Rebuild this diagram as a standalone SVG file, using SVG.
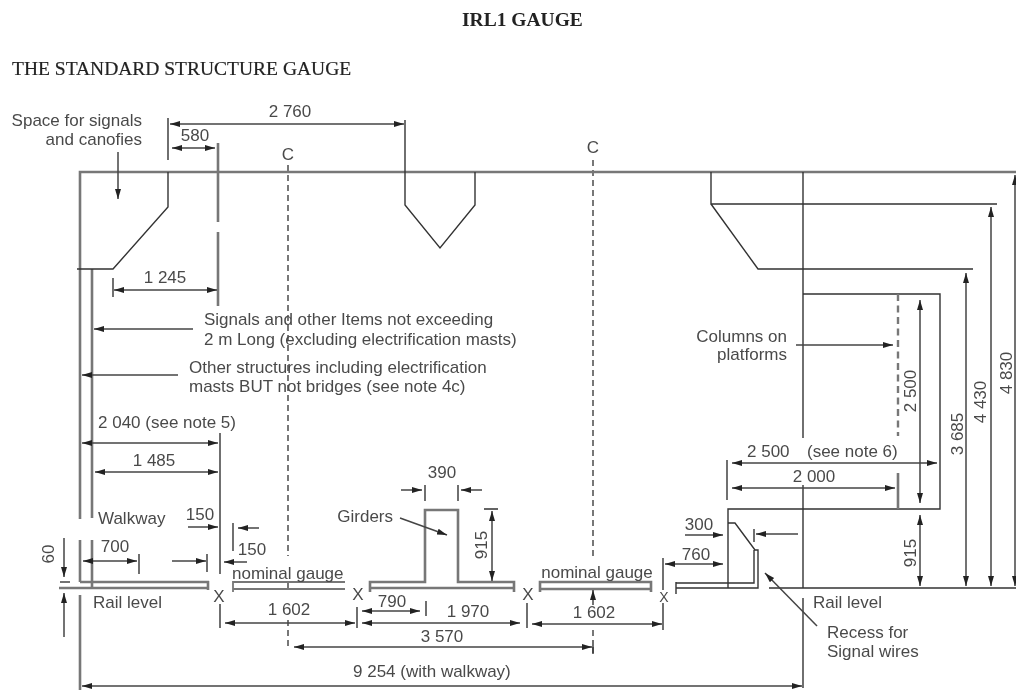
<svg xmlns="http://www.w3.org/2000/svg" width="1016" height="691" viewBox="0 0 1016 691">
<style>
text{font-family:"Liberation Sans",Arial,sans-serif;font-size:17px;fill:#4a4a4a}
.t{font-family:"Liberation Serif","Times New Roman",serif;font-size:19.5px;fill:#222}
.e{text-anchor:end}.m{text-anchor:middle}
path,line{fill:none;stroke-linecap:butt}
.h{stroke:#777;stroke-width:2.6}
.n{stroke:#333;stroke-width:1.4}
.d{stroke:#777;stroke-width:2.4;stroke-dasharray:7 4.5}
.a{stroke:#444;stroke-width:1.5;marker-end:url(#ar)}
.b{stroke:#444;stroke-width:1.5;marker-start:url(#ar);marker-end:url(#ar)}
#ar path{fill:#222;stroke:none}
</style>
<defs>
<marker id="ar" markerUnits="userSpaceOnUse" markerWidth="12" markerHeight="8" refX="10" refY="3" orient="auto-start-reverse"><path d="M0 0L10 3L0 6Z"/></marker>
<filter id="soft" x="0" y="0" width="100%" height="100%"><feGaussianBlur stdDeviation="0.5"/></filter>
</defs>
<rect width="1016" height="691" fill="#fff"/>
<g filter="url(#soft)">
<g id="titles">
<text class="t" x="462" y="26" style="font-weight:bold">IRL1 GAUGE</text>
<text class="t" x="12" y="75" style="stroke:#222;stroke-width:.2">THE STANDARD STRUCTURE GAUGE</text>
</g>
<g id="structure-outline">
<path class="h" d="M1016 172H80V519M80 540V582M80 595V690"/>
<path class="h" d="M92 269V518M92 540V589"/>
<path class="n" d="M168 118V160M168 172V207L113 269H77"/>
<path class="h" d="M218 143V222M218 232V306"/>
<path class="n" d="M220 433V574M220 604V628"/>
<path class="n" d="M405 120V205L440 248L475 205V172"/>
<path class="n" d="M711 172V204H997M711 204L758 269H973"/>
<path class="n" d="M803 172V438M803 485V588M803 598V688"/>
<path class="n" d="M803 294H940V509H728V588"/>
<path class="d" d="M898 294V436"/>
<path class="h" d="M898 473V509"/>
<path class="n" d="M728 523H735L755 550H758V588H676M754 550V583H676M676 582V594"/>
<path class="n" d="M769 588H1016"/>
</g>
<g id="centre-lines">
<path class="d" style="stroke-width:2;stroke-dasharray:6 4" d="M288 165V556M288 582V590M288 620V650"/>
<path class="d" style="stroke-width:2;stroke-dasharray:6 4" d="M593 160V560M593 630V638M593 647V653"/>
</g>
<g id="platforms">
<path class="h" d="M80 582H209M59 588H207M208 581V590"/>
<path class="h" d="M233 582H345M233 589H345M233 581V592" style="stroke-width:1.8"/>
<path class="h" d="M370 592V582H425V510H458V582H514V592M370 588H514"/>
<path class="h" d="M540 592V582H651V592M540 589H651"/>
<path class="n" d="M60 582H70"/>
</g>
<g id="connectors">
<path class="b" d="M170 124H404"/>
<path class="b" d="M172 148H215"/>
<path class="n" d="M113 278V297"/>
<path class="b" d="M114 290H217"/>
<line class="a" x1="118" y1="152" x2="118" y2="199"/>
<line class="a" x1="193" y1="329" x2="94" y2="329"/>
<line class="a" x1="178" y1="375" x2="82" y2="375"/>
<path class="b" d="M82 443H218"/>
<path class="b" d="M95 472H218"/>
<line class="a" x1="188" y1="527" x2="218" y2="527"/>
<path class="n" d="M233 523V551"/>
<line class="a" x1="259" y1="528" x2="238" y2="528"/>
<path class="b" d="M83 561H137"/>
<path class="n" d="M139 554V574M207 554V572"/>
<line class="a" x1="172" y1="561" x2="206" y2="561"/>
<line class="a" x1="247" y1="562" x2="224" y2="562"/>
<line class="a" x1="64" y1="538" x2="64" y2="577"/>
<line class="a" x1="64" y1="637" x2="64" y2="593"/>
<path class="b" d="M225 623H355"/>
<path class="n" d="M357 607V628M527 603V628M663 603V630M426 601V616"/>
<path class="b" d="M362 611H420"/>
<path class="b" d="M362 623H520"/>
<path class="b" d="M532 624H662"/>
<path class="b" d="M294 647H592"/>
<path class="n" d="M593 640V654"/>
<path class="b" d="M82 686H802"/>
<line class="a" x1="401" y1="490" x2="422" y2="490"/>
<line class="a" x1="482" y1="490" x2="461" y2="490"/>
<path class="n" d="M425 485V501M458 485V501M484 509H498"/>
<path class="b" d="M492 511V581"/>
<line class="a" x1="400" y1="518" x2="447" y2="535"/>
<line class="a" x1="593" y1="605" x2="593" y2="590"/>
<line class="a" x1="796" y1="345" x2="893" y2="345"/>
<path class="b" d="M920 300V503"/>
<path class="b" d="M920 515V586"/>
<path class="b" d="M966 273V586"/>
<path class="b" d="M991 207V586"/>
<path class="b" d="M1015 175V586"/>
<path class="n" d="M727 460V500"/>
<path class="b" d="M732 463H937"/>
<path class="b" d="M732 488H895"/>
<line class="a" x1="685" y1="535" x2="723" y2="535"/>
<path class="b" d="M665 564H723"/>
<path class="n" d="M663 558V590"/>
<line class="a" x1="798" y1="534" x2="756" y2="534"/>
<path class="n" d="M754 529V542"/>
<line class="a" x1="817" y1="626" x2="765" y2="573"/>
</g>
<g id="labels">
<text class="e" x="142" y="126">Space for signals</text>
<text class="e" x="142" y="145">and canofies</text>
<text class="m" x="290" y="117">2 760</text>
<text class="m" x="195" y="141">580</text>
<text class="m" x="288" y="160">C</text>
<text class="m" x="593" y="153">C</text>
<text class="m" x="165" y="283">1 245</text>
<text x="204" y="325">Signals and other Items not exceeding</text>
<text x="204" y="345">2 m Long (excluding electrification masts)</text>
<text x="189" y="373">Other structures including electrification</text>
<text x="189" y="392">masts BUT not bridges (see note 4c)</text>
<text x="98" y="428">2 040 (see note 5)</text>
<text class="m" x="154" y="466">1 485</text>
<text x="98" y="524">Walkway</text>
<text class="m" x="200" y="520">150</text>
<text class="m" x="252" y="555">150</text>
<text class="m" x="115" y="552">700</text>
<text x="232" y="579">nominal gauge</text>
<text x="93" y="608">Rail level</text>
<text class="m" x="219" y="602">X</text>
<text class="m" x="358" y="600">X</text>
<text class="m" x="528" y="600">X</text>
<text class="m" x="664" y="602" style="font-size:14px">X</text>
<text class="m" x="289" y="615">1 602</text>
<text class="m" x="392" y="607">790</text>
<text class="m" x="468" y="617">1 970</text>
<text class="m" x="594" y="618">1 602</text>
<text class="m" x="442" y="642">3 570</text>
<text x="353" y="677">9 254  (with walkway)</text>
<text class="m" x="442" y="478">390</text>
<text class="e" x="393" y="522">Girders</text>
<text class="m" transform="translate(487 545) rotate(-90)">915</text>
<text class="m" x="597" y="578">nominal gauge</text>
<text class="m" transform="translate(54 554) rotate(-90)">60</text>
<text class="m" x="699" y="530">300</text>
<text class="m" x="696" y="560">760</text>
<text x="747" y="457">2 500</text>
<text x="807" y="457">(see note 6)</text>
<text class="m" x="814" y="482">2 000</text>
<text class="m" transform="translate(916 553) rotate(-90)">915</text>
<text x="813" y="608">Rail level</text>
<text x="827" y="638">Recess for</text>
<text x="827" y="657">Signal wires</text>
<text class="e" x="787" y="342">Columns on</text>
<text class="e" x="787" y="360">platforms</text>
<text class="m" transform="translate(916 391) rotate(-90)">2 500</text>
<text class="m" transform="translate(963 434) rotate(-90)">3 685</text>
<text class="m" transform="translate(986 402) rotate(-90)">4 430</text>
<text class="m" transform="translate(1012 373) rotate(-90)">4 830</text>
</g>
</g>
</svg>
